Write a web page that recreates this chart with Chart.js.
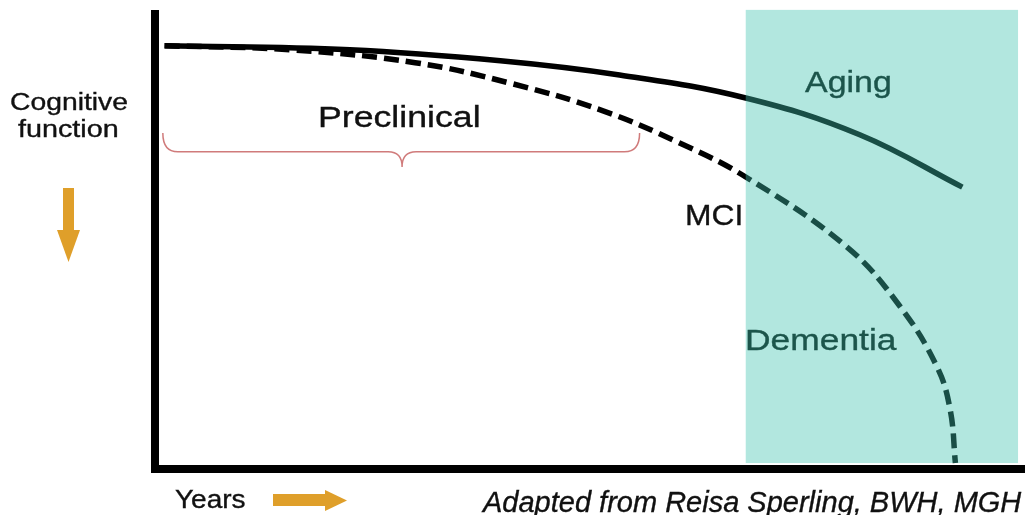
<!DOCTYPE html>
<html>
<head>
<meta charset="utf-8">
<script src="https://cdn.jsdelivr.net/npm/chart.js@4.4.0/dist/chart.umd.min.js"></script>
<style>
  html, body { margin: 0; padding: 0; background: #fff; }
  #wrap { position: relative; width: 1025px; height: 515px; overflow: hidden; }
  .lbl { position: absolute; white-space: nowrap; line-height: 1; font-family: "Liberation Sans", Arial, sans-serif; transform-origin: 0 0; color: #111; -webkit-text-stroke: 0.35px currentColor; }
</style>
</head>
<body>
<div id="wrap"><canvas id="chart"></canvas></div>
<script>
// x = years (0..100 along the axis), y = cognitive function
const agingX = [1.1, 22.4, 39.7, 53.4, 67.9, 81.0, 92.8];
const agingY = [92.2, 91.3, 88.9, 85.8, 80.8, 72.8, 61.4];

const dementiaX = [1.1, 15.5, 29.9, 41.1, 51.5, 60.3, 67.9, 79.5, 85.6, 89.9, 91.4, 92.0];
const dementiaY = [92.2, 91.3, 88.5, 83.9, 78.0, 71.0, 63.6, 48.4, 35.5, 22.2, 12.9, 1.3];

// shaded dementia/aging zone and the preclinical brace
const zoneX = [67.9, 99.2];
const zoneY = [1.3, 100];
const braceX = [0.9, 28.4, 55.7];
const braceY = [73.2, 69.1, 65.8];

const labels = [
  { text: 'Cognitive', x: 10, base: 110, size: 23, sx: 1.23 },
  { text: 'function', x: 18, base: 137, size: 23, sx: 1.25 },
  { text: 'Preclinical', x: 318, base: 128, size: 29, sx: 1.23 },
  { text: 'Aging', x: 805, base: 93, size: 29, sx: 1.17, color: '#1c554b' },
  { text: 'MCI', x: 685, base: 225, size: 30, sx: 1.06 },
  { text: 'Dementia', x: 745, base: 351, size: 29, sx: 1.22, color: '#1c554b' },
  { text: 'Years', x: 175, base: 508, size: 25, sx: 1.12 },
  { text: 'Adapted from Reisa Sperling, BWH, MGH', x: 483, base: 513, size: 29, sx: 1.0, italic: true },
];

function toPoints(xs, ys) {
  return xs.map((v, i) => ({ x: v, y: ys[i] }));
}

const overlayPlugin = {
  id: 'overlay',
  afterDatasetsDraw(chart) {
    const { ctx, scales: { x, y } } = chart;

    // curly brace under "Preclinical"
    const bl = x.getPixelForValue(braceX[0]);
    const bm = x.getPixelForValue(braceX[1]);
    const br = x.getPixelForValue(braceX[2]);
    const yTop = y.getPixelForValue(braceY[0]);
    const yMid = y.getPixelForValue(braceY[1]);
    const yTip = y.getPixelForValue(braceY[2]);
    const r = yMid - yTop;
    ctx.save();
    ctx.strokeStyle = 'rgba(200, 100, 100, 0.85)';
    ctx.lineWidth = 1.5;
    ctx.beginPath();
    ctx.moveTo(bl, yTop);
    ctx.quadraticCurveTo(bl, yMid, bl + r * 0.8, yMid);
    ctx.lineTo(bm - 14, yMid);
    ctx.quadraticCurveTo(bm, yMid, bm, yTip);
    ctx.quadraticCurveTo(bm, yMid, bm + 14, yMid);
    ctx.lineTo(br - r * 0.8, yMid);
    ctx.quadraticCurveTo(br, yMid, br, yTop);
    ctx.stroke();
    ctx.restore();

    // translucent teal zone on top of the curves
    const l = x.getPixelForValue(zoneX[0]);
    const rr = x.getPixelForValue(zoneX[1]);
    const t = y.getPixelForValue(zoneY[1]);
    const b = y.getPixelForValue(zoneY[0]);
    ctx.save();
    ctx.fillStyle = 'rgba(62, 195, 175, 0.4)';
    ctx.fillRect(l, t, rr - l, b - t);
    ctx.restore();
  },
  afterDraw(chart) {
    const ctx = chart.ctx;
    ctx.save();
    ctx.fillStyle = '#df9f2a';
    // down arrow next to the y label
    ctx.fillRect(63, 188, 11, 43);
    ctx.beginPath();
    ctx.moveTo(57, 230);
    ctx.lineTo(80, 230);
    ctx.lineTo(68.5, 262);
    ctx.closePath();
    ctx.fill();
    // right arrow next to "Years"
    ctx.fillRect(273, 494, 53, 12);
    ctx.beginPath();
    ctx.moveTo(325, 490);
    ctx.lineTo(325, 511);
    ctx.lineTo(347, 500.5);
    ctx.closePath();
    ctx.fill();
    ctx.restore();
  }
};

const ctx = document.getElementById('chart').getContext('2d');
new Chart(ctx, {
  type: 'line',
  data: {
    datasets: [
      {
        label: 'Aging',
        data: toPoints(agingX, agingY),
        borderColor: '#000',
        borderWidth: 5.5,
        pointRadius: 0,
        tension: 0.4,
      },
      {
        label: 'MCI / Dementia',
        data: toPoints(dementiaX, dementiaY),
        borderColor: '#000',
        borderWidth: 5.5,
        borderDash: [15, 7],
        pointRadius: 0,
        tension: 0.4,
      },
    ],
  },
  options: {
    responsive: true,
    maintainAspectRatio: false,
    animation: false,
    events: [],
    layout: { padding: { left: 155, top: 14, right: 0, bottom: 46 } },
    plugins: { legend: { display: false }, tooltip: { enabled: false } },
    scales: {
      x: {
        type: 'linear',
        min: 0,
        max: 100,
        grid: { display: false, drawTicks: false },
        ticks: { display: false },
        border: { display: true, color: '#000', width: 8 },
        afterFit: (scale) => { scale.height = 0; },
      },
      y: {
        min: 0,
        max: 99.1,
        grid: { display: false, drawTicks: false },
        ticks: { display: false },
        border: { display: true, color: '#000', width: 8 },
        afterFit: (scale) => { scale.width = 0; },
      },
    },
  },
  plugins: [overlayPlugin],
});

// text labels as real text on top of the canvas
const wrap = document.getElementById('wrap');
labels.forEach(lb => {
  const d = document.createElement('div');
  d.className = 'lbl';
  d.textContent = lb.text;
  d.style.left = lb.x + 'px';
  d.style.top = (lb.base - 0.8464 * lb.size) + 'px';
  d.style.fontSize = lb.size + 'px';
  d.style.transform = `scaleX(${lb.sx})`;
  if (lb.color) d.style.color = lb.color;
  if (lb.italic) d.style.fontStyle = 'italic';
  wrap.appendChild(d);
});
</script>
</body>
</html>
